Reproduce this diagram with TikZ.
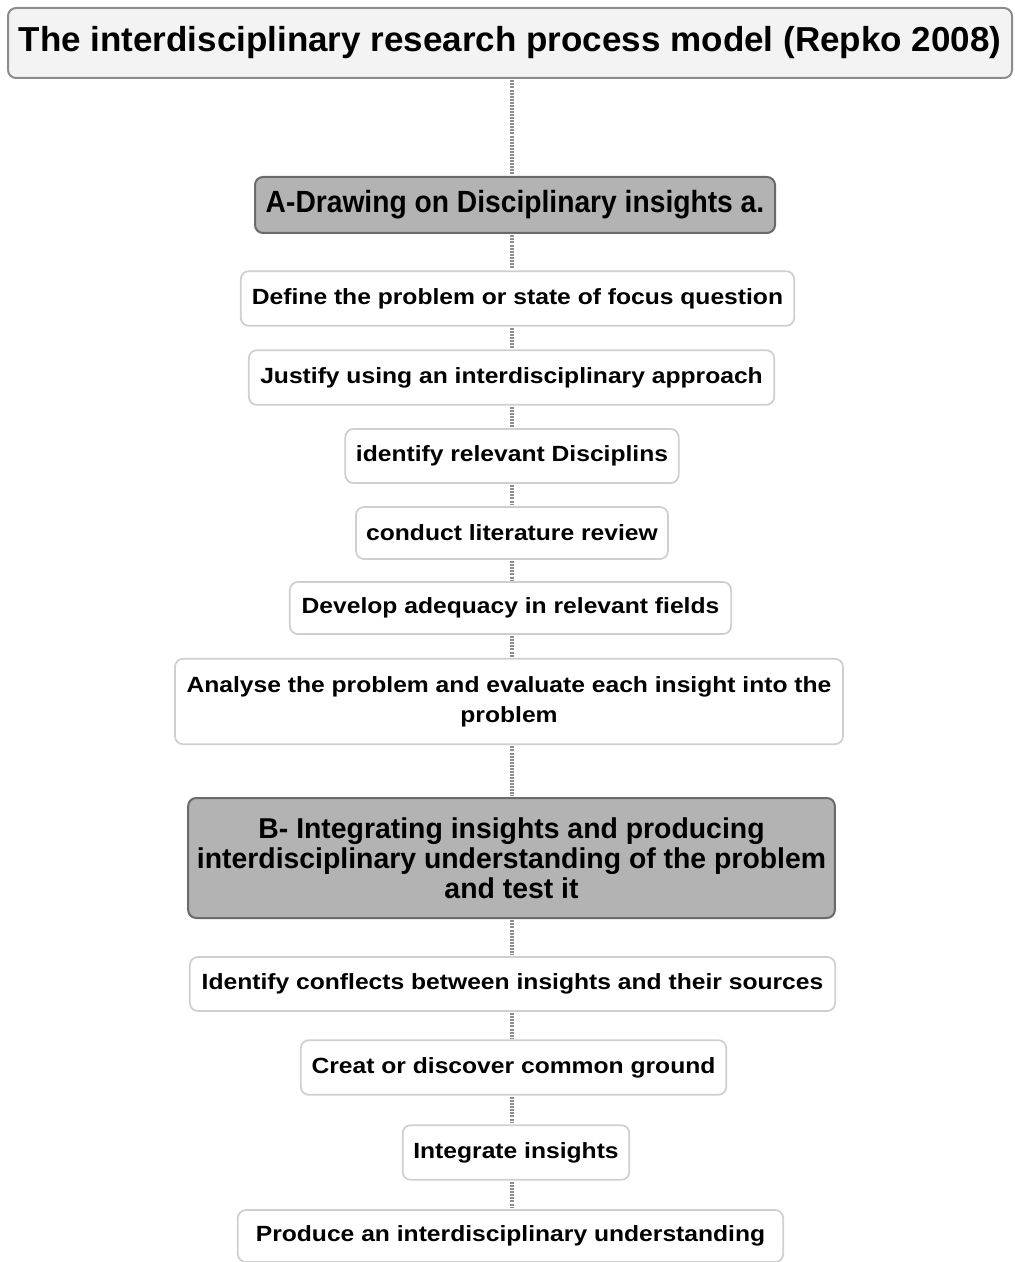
\documentclass[tikz,border=0pt]{standalone}
\usepackage{fontspec}
\setmainfont{Liberation Sans}
\newfontfamily\titlefont[FakeStretch=1.01]{Liberation Sans}
\newfontfamily\phaseAfont[FakeStretch=0.92]{Liberation Sans}
\newfontfamily\phaseBfont[FakeStretch=0.99]{Liberation Sans}
\newfontfamily\stepfont[FakeStretch=1.12]{Liberation Sans}
\usetikzlibrary{positioning}

\definecolor{titlefill}{HTML}{F3F3F3}
\definecolor{titleline}{HTML}{8C8C8C}
\definecolor{phasefill}{HTML}{B3B3B3}
\definecolor{phaseline}{HTML}{6A6A6A}
\definecolor{stepline}{HTML}{CFCFCF}
\definecolor{linkgray}{HTML}{8E8E8E}

\tikzset{
  titlebox/.style={draw=titleline, line width=1.5pt, fill=titlefill, rounded corners=6pt,
    font=\titlefont\bfseries\fontsize{26}{30}\selectfont, inner sep=0pt},
  phasebox/.style={draw=phaseline, line width=1.5pt, fill=phasefill, rounded corners=6pt,
    font=\phaseBfont\bfseries\fontsize{21.5}{22.5}\selectfont, align=center, inner sep=0pt},
  stepbox/.style={draw=stepline, line width=1.3pt, fill=white, rounded corners=6pt,
    font=\stepfont\bfseries\fontsize{16.5}{22.5}\selectfont, align=center, inner sep=0pt},
  link/.style={draw=linkgray, line width=2.4pt, dash pattern=on 1.5pt off 0.8pt}
}

\begin{document}
\begin{tikzpicture}[x=0.75pt, y=-0.75pt]
  \useasboundingbox (0,0) rectangle (1014,1262);
  \coordinate (spine) at (512,0);

  % title
  \node[titlebox, minimum width=753pt, minimum height=52.5pt] (title) at (510,43)
    {The interdisciplinary research process model (Repko 2008)};

  % part A
  \node[phasebox, minimum width=390pt, minimum height=42pt,
        font=\phaseAfont\bfseries\fontsize{23}{24}\selectfont] (partA) at (515,205)
    {A-Drawing on Disciplinary insights a.};
  \node[stepbox, minimum width=415pt, minimum height=41pt] (define) at (517.5,298.5)
    {Define the problem or state of focus question};
  \node[stepbox, minimum width=394pt, minimum height=41pt] (justify) at (511.5,377.5)
    {Justify using an interdisciplinary approach};
  \node[stepbox, minimum width=250pt, minimum height=40.5pt] (disciplines) at (512,456)
    {identify relevant Disciplins};
  \node[stepbox, minimum width=234pt, minimum height=39pt] (review) at (512,533)
    {conduct literature review};
  \node[stepbox, minimum width=331pt, minimum height=39pt] (adequacy) at (510.5,608)
    {Develop adequacy in relevant fields};
  \node[stepbox, minimum width=501pt, minimum height=64pt] (analyse) at (509,701.5)
    {Analyse the problem and evaluate each insight into the\\problem};

  % part B
  \node[phasebox, minimum width=485pt, minimum height=90pt] (partB) at (511.5,858)
    {B- Integrating insights and producing\\interdisciplinary understanding of the problem\\and test it};
  \node[stepbox, minimum width=484pt, minimum height=40.5pt] (conflicts) at (512.5,984)
    {Identify conflects between insights and their sources};
  \node[stepbox, minimum width=319pt, minimum height=41pt] (ground) at (513.5,1067.5)
    {Creat or discover common ground};
  \node[stepbox, minimum width=170pt, minimum height=41pt] (integrate) at (516,1152.5)
    {Integrate insights};
  \node[stepbox, minimum width=409pt, minimum height=39pt] (produce) at (510.5,1236)
    {Produce an interdisciplinary understanding};

  % dotted links
  \foreach \a/\b in {title/partA, partA/define, define/justify, justify/disciplines,
      disciplines/review, review/adequacy, adequacy/analyse, analyse/partB,
      partB/conflicts, conflicts/ground, ground/integrate, integrate/produce}
    \draw[link] ([yshift=-1pt]spine |- \a.south) -- ([yshift=1pt]spine |- \b.north);
\end{tikzpicture}
\end{document}
